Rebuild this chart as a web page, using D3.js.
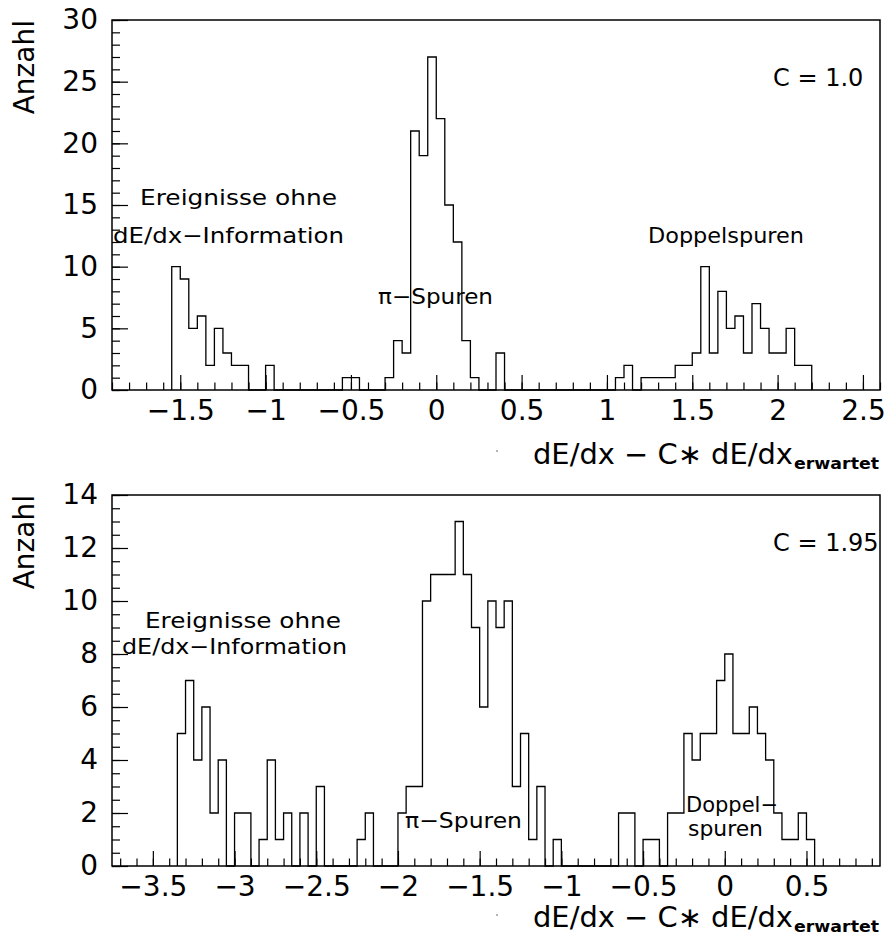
<!DOCTYPE html>
<html><head><meta charset="utf-8">
<script src="https://cdn.jsdelivr.net/npm/d3@7"></script>
<style>
body{margin:0;background:#fff}
svg{display:block}
text{font-family:"DejaVu Sans",sans-serif;fill:#000}
</style>
</head><body>
<svg id="c" width="888" height="950"></svg>
<script>
// ---------------- data ----------------
const binWidth = 0.05;

// upper histogram (C = 1.0): counts per 0.05 bin, first bin starts at -1.55
const upperStart = -1.55;
const upperCounts = [
  10, 9, 5, 6, 2, 5, 3, 2, 2, 0, 0, 2,          // -1.55 .. -1.00
  0, 0, 0, 0, 0, 0, 0, 0,                       // -0.95 .. -0.60
  1, 1, 0, 0, 0, 1, 4, 3,                       // -0.55 .. -0.20
  21, 19, 27, 22, 15, 12, 4, 1, 0, 0, 3,        // -0.15 .. 0.35
  0, 0, 0, 0, 0, 0, 0, 0, 0, 0, 0, 0, 0,        // 0.40 .. 1.00
  1, 2, 0, 1, 1, 1, 1, 2, 2, 3,                 // 1.05 .. 1.50
  10, 3, 8, 5, 6, 3, 7, 5, 3, 3, 5, 2, 2        // 1.55 .. 2.15
];

// lower histogram (C = 1.95): first bin starts at -3.35
const lowerStart = -3.35;
const lowerCounts = [
  5, 7, 4, 6, 2, 4, 0, 2, 2, 0, 1, 4, 1, 2, 0, 2, 0, 3,   // -3.35 .. -2.50
  0, 0, 0, 0, 1, 2, 0, 0, 0,                               // -2.45 .. -2.05
  2, 3, 3, 10, 11, 11, 11, 13, 11, 9, 6, 10, 9, 10,        // -2.00 .. -1.35
  3, 5, 1, 3, 0, 1,                                        // -1.30 .. -1.05
  0, 0, 0, 0, 0, 0, 0,                                     // -1.00 .. -0.70
  2, 2, 0, 1, 1, 0, 2, 2,                                  // -0.65 .. -0.30
  5, 4, 5, 5, 7, 8, 5, 5, 6, 5, 4, 2, 1, 1, 2, 1           // -0.25 .. 0.50
];

const upperXTicks  = [-1.5, -1, -0.5, 0, 0.5, 1, 1.5, 2, 2.5];
const upperXLabels = ["\u22121.5", "\u22121", "\u22120.5", "0", "0.5", "1", "1.5", "2", "2.5"];
const upperYTicks  = [0, 5, 10, 15, 20, 25, 30];
const upperYLabels = ["0", "5", "10", "15", "20", "25", "30"];

const lowerXTicks  = [-3.5, -3, -2.5, -2, -1.5, -1, -0.5, 0, 0.5];
const lowerXLabels = ["\u22123.5", "\u22123", "\u22122.5", "\u22122", "\u22121.5", "\u22121", "\u22120.5", "0", "0.5"];
const lowerYTicks  = [0, 2, 4, 6, 8, 10, 12, 14];
const lowerYLabels = ["0", "2", "4", "6", "8", "10", "12", "14"];

const yTitle = "Anzahl";
const xTitleMain = "dE/dx \u2212 C\u2217 dE/dx";
const xTitleSub = "erwartet";

// ---------------- drawing ----------------
const svg = d3.select("#c");
const L = 112, R = 880;

const panels = [
  {
    top: 20, bottom: 390,
    xDomain: [-1.9, 2.6], yDomain: [0, 30],
    start: upperStart, counts: upperCounts,
    xTicks: upperXTicks, xLabels: upperXLabels,
    xMinor: d3.range(-19, 27).map(i => i / 10),
    yTicks: upperYTicks, yLabels: upperYLabels,
    yMinor: d3.range(0, 31),
    cLabel: "C = 1.0", cY: 86,
    notes: [
      {t: "Ereignisse ohne", x: 140, y: 205, w: 197},
      {t: "dE/dx\u2212Information", x: 113, y: 243, w: 231},
      {t: "\u03c0\u2212Spuren", x: 378, y: 304, w: 115},
      {t: "Doppelspuren", x: 648, y: 243, w: 156}
    ],
    titleY: 464, dotY: 451
  },
  {
    top: 495, bottom: 866,
    xDomain: [-3.75, 0.95], yDomain: [0, 14],
    start: lowerStart, counts: lowerCounts,
    xTicks: lowerXTicks, xLabels: lowerXLabels,
    xMinor: d3.range(-37, 10).map(i => i / 10),
    yTicks: lowerYTicks, yLabels: lowerYLabels,
    yMinor: d3.range(0, 29).map(i => i / 2),
    cLabel: "C = 1.95", cY: 551,
    notes: [
      {t: "Ereignisse ohne", x: 145, y: 628, w: 196},
      {t: "dE/dx\u2212Information", x: 122, y: 654, w: 225},
      {t: "\u03c0\u2212Spuren", x: 405, y: 828, w: 117},
      {t: "Doppel\u2212", x: 686, y: 812, w: 92},
      {t: "spuren", x: 688, y: 836, w: 75}
    ],
    titleY: 927, dotY: 915
  }
];

panels.forEach(p => {
  const g = svg.append("g");
  const x = d3.scaleLinear().domain(p.xDomain).range([L, R]);
  const y = d3.scaleLinear().domain(p.yDomain).range([p.bottom, p.top]);

  // minor ticks
  g.append("g").attr("transform", `translate(0,${p.bottom})`)
    .call(d3.axisBottom(x).tickValues(p.xMinor).tickSize(-7.5).tickFormat(""))
    .call(a => a.select(".domain").remove());
  g.append("g").attr("transform", `translate(${L},0)`)
    .call(d3.axisLeft(y).tickValues(p.yMinor).tickSize(-8).tickFormat(""))
    .call(a => a.select(".domain").remove());

  // major ticks with labels
  const xa = g.append("g").attr("transform", `translate(0,${p.bottom})`)
    .call(d3.axisBottom(x).tickValues(p.xTicks).tickSize(-15).tickPadding(10)
      .tickFormat((d, i) => p.xLabels[i]))
    .call(a => a.select(".domain").remove());
  const ya = g.append("g").attr("transform", `translate(${L},0)`)
    .call(d3.axisLeft(y).tickValues(p.yTicks).tickSize(-16).tickPadding(14)
      .tickFormat((d, i) => p.yLabels[i]))
    .call(a => a.select(".domain").remove());
  [xa, ya].forEach(a => a.attr("font-size", 28).attr("font-family", "DejaVu Sans"));
  g.selectAll(".tick line").attr("stroke", "#000").attr("stroke-width", 1.2);

  // histogram outline
  const pts = [[p.start, 0]];
  p.counts.forEach((c, i) => {
    const x0 = p.start + i * binWidth;
    pts.push([x0, c], [x0 + binWidth, c]);
  });
  pts.push([p.start + p.counts.length * binWidth, 0]);
  g.append("path")
    .attr("d", d3.line().x(d => x(d[0])).y(d => y(d[1]))(pts))
    .attr("fill", "none").attr("stroke", "#000").attr("stroke-width", 1.3);

  // frame
  g.append("rect").attr("x", L).attr("y", p.top)
    .attr("width", R - L).attr("height", p.bottom - p.top)
    .attr("fill", "none").attr("stroke", "#000").attr("stroke-width", 1.5);

  // y title
  g.append("text").attr("transform", `translate(34,${p.top}) rotate(-90)`)
    .attr("text-anchor", "end").attr("font-size", 28).text(yTitle);

  // C label
  g.append("text").attr("x", 773).attr("y", p.cY).attr("font-size", 24)
    .attr("font-family", "Liberation Sans")
    .text(p.cLabel);

  // annotations
  p.notes.forEach(n => {
    g.append("text").attr("x", n.x).attr("y", n.y).attr("font-size", 22)
      .attr("textLength", n.w).attr("lengthAdjust", "spacingAndGlyphs").text(n.t);
  });

  // x title
  const t = g.append("text").attr("x", 533).attr("y", p.titleY).attr("font-size", 28);
  t.append("tspan").attr("textLength", 260).attr("lengthAdjust", "spacingAndGlyphs").text(xTitleMain);
  g.append("text").attr("x", 794).attr("y", p.titleY + 5).attr("font-size", 15)
    .attr("font-weight", "bold").attr("textLength", 85).attr("lengthAdjust", "spacingAndGlyphs")
    .text(xTitleSub);

  // small stray dot
  g.append("circle").attr("cx", 497).attr("cy", p.dotY).attr("r", 0.8).attr("fill", "#555");
});
</script>
</body></html>
